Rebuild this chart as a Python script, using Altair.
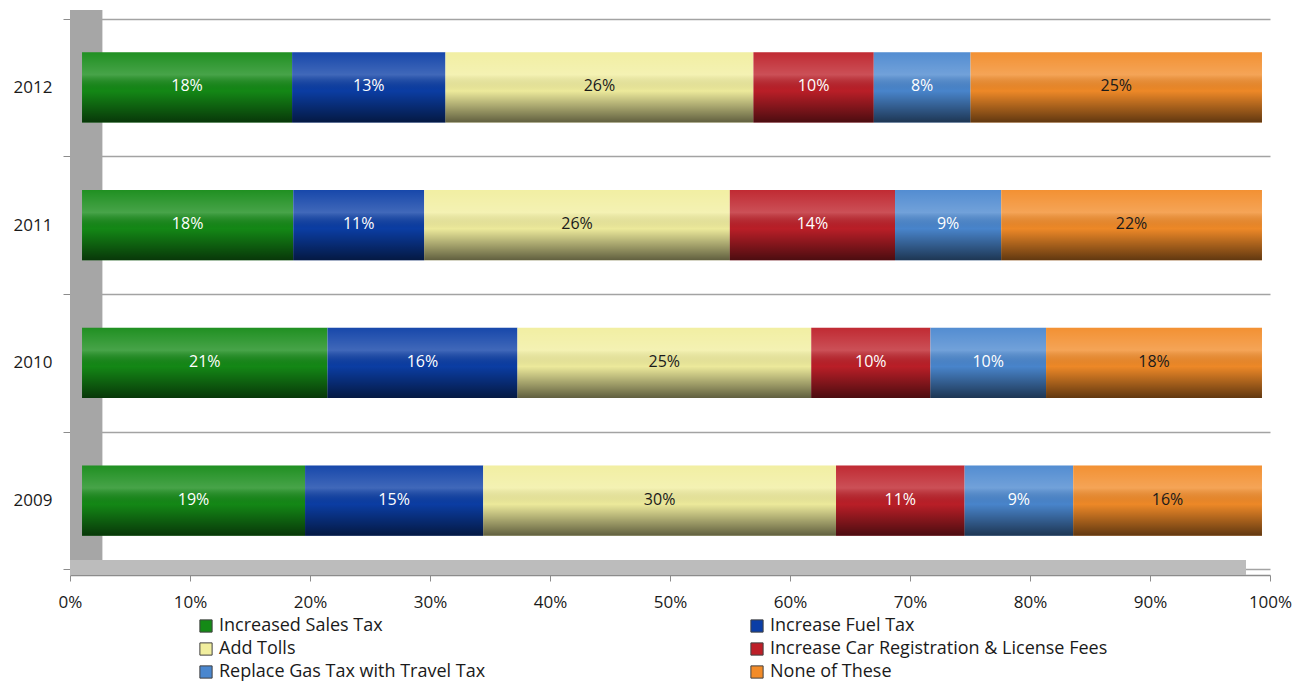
import altair as alt
import pandas as pd

years = ["2012", "2011", "2010", "2009"]
series = [
    "Increased Sales Tax",
    "Increase Fuel Tax",
    "Add Tolls",
    "Increase Car Registration & License Fees",
    "Replace Gas Tax with Travel Tax",
    "None of These",
]
sales_tax = [17.8, 17.9, 20.8, 18.9]
fuel_tax = [13.0, 11.1, 16.1, 15.1]
add_tolls = [26.1, 25.9, 24.9, 29.9]
car_reg = [10.2, 14.0, 10.1, 10.9]
travel_tax = [8.2, 9.0, 9.8, 9.2]
none_these = [24.7, 22.1, 18.3, 16.0]
x_ticks = [0, 10, 20, 30, 40, 50, 60, 70, 80, 90, 100]

colors = ["#148a16", "#0b3ea6", "#f1ee9e", "#bd1f28", "#4a87cf", "#f28b28"]
dark_text = ["Add Tolls", "None of These"]

rows = []
for k, (name, vals) in enumerate(zip(series, [sales_tax, fuel_tax, add_tolls, car_reg, travel_tax, none_these])):
    for y, v in zip(years, vals):
        rows.append({"year": y, "series": name, "k": k, "v": v})
df = pd.DataFrame(rows)

FONT = "Open Sans"
W, H = 1200, 562

yenc = alt.Y(
    "year:N",
    sort=years,
    scale=alt.Scale(paddingInner=0, paddingOuter=0.04),
    axis=alt.Axis(
        title=None, domain=False, grid=True, tickBand="extent",
        gridColor="#a3a3a3", gridWidth=1.5, tickColor="#8c8c8c", tickSize=7,
        labelFontSize=17, labelColor="#1a1a1a", labelFont=FONT, labelPadding=11,
    ),
)
# axis scale (back plane of the 3D plot)
xscale = alt.Scale(domain=[0, 100], nice=False)
# bar scale (front plane, slightly inset by the 3D perspective)
bscale = alt.Scale(domain=[-1.02, 100.68], nice=False, zero=False)
xaxis = alt.Axis(
    title=None, values=x_ticks, labelExpr="datum.value + '%'", grid=False,
    domainColor="#8c8c8c", domainWidth=1.5, tickColor="#8c8c8c", tickSize=6,
    labelFontSize=17, labelColor="#1a1a1a", labelFont=FONT, labelPadding=13,
    labelFlush=False,
)

base = alt.Chart(df).transform_stack(
    stack="v", groupby=["year"], as_=["x0", "x1"], sort=[alt.SortField("k", order="ascending")]
).transform_calculate(
    mid="(datum.x0 + datum.x1) / 2",
    label="format(datum.v, '.0f') + '%'",
)

wall = alt.Chart(pd.DataFrame({"a": [0]})).mark_rect(color="#a6a6a6").encode(
    x=alt.X(datum=0, scale=xscale, axis=xaxis),
    x2=alt.X2(datum=2.7),
    y=alt.value(-3),
    y2=alt.value(H),
)
floor = alt.Chart(pd.DataFrame({"a": [0]})).mark_rect(color="#bcbcbc").encode(
    x=alt.X(datum=0, scale=xscale, axis=None),
    x2=alt.X2(datum=98),
    y=alt.value(H - 15),
    y2=alt.value(H),
)

BAR_BAND = alt.RelativeBandSize(band=0.51)

bars = base.mark_bar(height=BAR_BAND).encode(
    x=alt.X("x0:Q", scale=bscale, axis=None),
    x2="x1:Q",
    y=yenc,
    color=alt.Color(
        "series:N",
        scale=alt.Scale(domain=series, range=colors),
        legend=alt.Legend(
            title=None, orient="none", legendX=127, legendY=604, columns=2,
            direction="horizontal",
            symbolType="square", symbolSize=150, symbolStrokeWidth=1,
            symbolStrokeColor="#404040", symbolOpacity=1,
            labelFontSize=18, labelFont=FONT, labelColor="#1a1a1a", labelLimit=500,
            labelOffset=4, columnPadding=262, rowPadding=5, padding=0,
        ),
    ),
)

shade = base.mark_bar(
    height=BAR_BAND,
    color=alt.Gradient(
        gradient="linear",
        stops=[
            alt.GradientStop(offset=0, color="rgba(255,255,255,0.05)"),
            alt.GradientStop(offset=0.32, color="rgba(255,255,255,0.22)"),
            alt.GradientStop(offset=0.55, color="rgba(0,0,0,0.02)"),
            alt.GradientStop(offset=1, color="rgba(0,0,0,0.6)"),
        ],
        x1=0, x2=0, y1=0, y2=1,
    ),
).encode(x=alt.X("x0:Q", scale=bscale, axis=None), x2="x1:Q", y=yenc)

text = base.mark_text(fontSize=16, font=FONT, baseline="middle", dy=-1).encode(
    x=alt.X("mid:Q", scale=bscale, axis=None),
    y=yenc,
    text="label:N",
    color=alt.condition(
        alt.FieldOneOfPredicate(field="series", oneOf=dark_text),
        alt.value("#1a1a1a"),
        alt.value("#ffffff"),
    ),
)

chart = alt.layer(wall, floor, bars, shade, text).resolve_scale(x="independent").properties(
    width=W, height=H,
    autosize=alt.AutoSizeParams(type="none"),
    padding={"left": 62, "top": 5, "right": 25, "bottom": 109},
).configure(font=FONT, background="white").configure_view(strokeWidth=0, stroke="transparent")

chart.save("out.html", embed_options={"renderer": "svg", "actions": False})
